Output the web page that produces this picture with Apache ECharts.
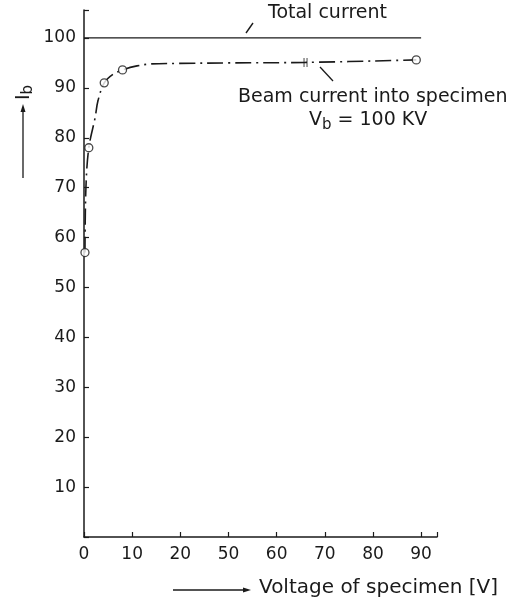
<!DOCTYPE html>
<html>
<head>
<meta charset="utf-8">
<script src="https://cdn.jsdelivr.net/npm/echarts@6/dist/echarts.min.js"></script>
<style>
  html, body { margin: 0; padding: 0; background: #fff; }
  #chart { width: 509px; height: 600px; }
</style>
</head>
<body>
<div id="chart"></div>
<script>
// ---- Data ----
// x axis is broken: equal spacing between these tick labels
const xTickLabels = ['0', '10', '20', '50', '60', '70', '80', '90'];
// y tick labels (0 not labelled)
const yTickLabels = ['10', '20', '30', '40', '50', '60', '70', '80', '90', '100'];
// Total current line
const totalV = [0, 90];
const totalI = [100, 100];
// Beam current into specimen (curve)
const beamV = [0.2, 0.4, 1, 2.3, 2.9, 4.2, 6, 8, 11, 14, 20, 50, 66, 89];
const beamI = [57, 70, 78, 84, 87.4, 91, 92.7, 93.6, 94.4, 94.8, 94.9, 95.0, 95.1, 95.6];
// Measured points (open circles)
const measV = [0.2, 1, 4.2, 8, 89];
const measI = [57, 78, 91, 93.6, 95.6];
// break mark on the curve
const breakV = [66];
const breakI = [95.1];

const tickVals = xTickLabels.map(Number);
function toPos(v) {
  for (let i = 0; i < tickVals.length - 1; i++) {
    if (v <= tickVals[i + 1]) {
      return i + (v - tickVals[i]) / (tickVals[i + 1] - tickVals[i]);
    }
  }
  const n = tickVals.length - 1;
  return n + (v - tickVals[n]) / (tickVals[n] - tickVals[n - 1]);
}
const pair = (vs, is) => vs.map((v, k) => [toPos(v), is[k]]);

const FONT = 'DejaVu Sans';
const INK = '#1a1a1a';

const chart = echarts.init(document.getElementById('chart'), null, { renderer: 'canvas' });
const option = {
  backgroundColor: '#ffffff',
  animation: false,
  grid: { left: 84, right: 72, top: 10, bottom: 63, containLabel: false },
  xAxis: {
    type: 'value', min: 0, max: 7.33, interval: 1,
    axisLine: { show: true, onZero: false, lineStyle: { color: INK, width: 1.5 } },
    axisTick: { show: true, inside: true, length: 5, lineStyle: { color: INK, width: 1.2 } },
    splitLine: { show: false },
    axisLabel: {
      margin: 9, color: INK, fontFamily: FONT, fontSize: 17,
      formatter: v => (Number.isInteger(v) && v < xTickLabels.length) ? xTickLabels[v] : ''
    }
  },
  yAxis: {
    type: 'value', min: 0, max: 105.6, interval: 10,
    axisLine: { show: true, onZero: false, lineStyle: { color: INK, width: 1.5 } },
    axisTick: { show: true, inside: true, length: 5, lineStyle: { color: INK, width: 1.2 } },
    splitLine: { show: false },
    axisLabel: {
      margin: 8, color: INK, fontFamily: FONT, fontSize: 17,
      formatter: v => {
        const i = Math.round(v / 10) - 1;
        return (Math.abs(v / 10 - Math.round(v / 10)) < 1e-6 && i >= 0 && i < yTickLabels.length) ? yTickLabels[i] : '';
      }
    }
  },
  series: [
    {
      type: 'line', data: pair(totalV, totalI), symbol: 'none',
      lineStyle: { color: INK, width: 1.3 }
    },
    {
      type: 'line', data: pair(beamV, beamI), symbol: 'none', smooth: 0.35,
      lineStyle: { color: INK, width: 1.6, type: [16, 5, 2, 5] }
    },
    {
      type: 'scatter', data: pair(measV, measI), symbol: 'circle', symbolSize: 8,
      itemStyle: { color: '#fff', borderColor: INK, borderWidth: 1.3 }, z: 5
    },
    {
      type: 'scatter', data: pair(breakV, breakI),
      symbol: 'path://M0,0h1v10h-1z M3,0h1v10h-1z', symbolSize: [4, 9],
      itemStyle: { color: INK }, z: 5
    }
  ],
  graphic: [
    { type: 'text', left: 268, top: 4, style: { text: 'Total current', font: '19px "DejaVu Sans"', fill: INK } },
    { type: 'line', shape: { x1: 253, y1: 23, x2: 246, y2: 33 }, style: { stroke: INK, lineWidth: 1.4 } },
    { type: 'text', left: 238, top: 88, style: { text: 'Beam current into specimen', font: '19px "DejaVu Sans"', fill: INK } },
    { type: 'text', left: 309, top: 111, style: {
        text: '{n|V}{s|b}{n| = 100 KV}', fill: INK,
        rich: { n: { fontFamily: FONT, fontSize: 19, fill: INK }, s: { fontFamily: FONT, fontSize: 15, fill: INK, padding: [9, 0, 0, 0] } }
    } },
    { type: 'line', shape: { x1: 320, y1: 67, x2: 333, y2: 81 }, style: { stroke: INK, lineWidth: 1.3 } },
    { type: 'text', x: 12, y: 100, rotation: Math.PI / 2, style: {
        text: '{n|I}{s|b}', fill: INK,
        rich: { n: { fontFamily: FONT, fontSize: 19, fill: INK }, s: { fontFamily: FONT, fontSize: 15, fill: INK, padding: [9, 0, 0, 0] } }
    } },
    { type: 'line', shape: { x1: 23, y1: 178, x2: 23, y2: 110 }, style: { stroke: INK, lineWidth: 1.3 } },
    { type: 'polygon', shape: { points: [[23, 104], [20.5, 112], [25.5, 112]] }, style: { fill: INK } },
    { type: 'line', shape: { x1: 173, y1: 590, x2: 245, y2: 590 }, style: { stroke: INK, lineWidth: 1.3 } },
    { type: 'polygon', shape: { points: [[251, 590], [243, 587.5], [243, 592.5]] }, style: { fill: INK } },
    { type: 'text', left: 259, top: 578, style: { text: 'Voltage of specimen [V]', font: '20px "DejaVu Sans"', fill: INK } }
  ]
};
chart.setOption(option);
</script>
</body>
</html>
